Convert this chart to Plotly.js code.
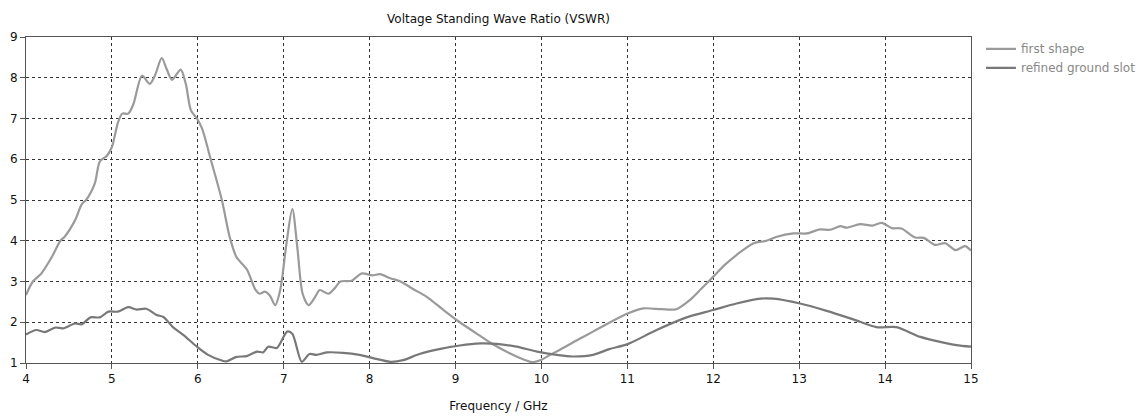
<!DOCTYPE html>
<html>
<head>
<meta charset="utf-8">
<script src="https://cdn.plot.ly/plotly-3.0.1.min.js"></script>
<style>html,body{margin:0;padding:0;background:#fff;}#chart{width:1138px;height:418px;}</style>
</head>
<body>
<div id="chart"></div>
<script>
const firstShapeFreq = [4.0, 4.08, 4.18, 4.30, 4.40, 4.45, 4.57, 4.65, 4.70, 4.80, 4.86, 4.94, 5.00, 5.07, 5.12, 5.19, 5.25, 5.35, 5.44, 5.50, 5.58, 5.64, 5.70, 5.80, 5.86, 5.92, 5.99, 6.05, 6.15, 6.28, 6.37, 6.45, 6.57, 6.67, 6.72, 6.78, 6.84, 6.90, 6.96, 7.03, 7.10, 7.16, 7.22, 7.29, 7.36, 7.42, 7.52, 7.60, 7.66, 7.79, 7.91, 8.03, 8.12, 8.24, 8.36, 8.51, 8.66, 8.86, 9.05, 9.29, 9.42, 9.63, 9.80, 9.89, 10.00, 10.10, 10.22, 10.45, 10.60, 10.80, 11.01, 11.19, 11.40, 11.57, 11.73, 11.86, 12.00, 12.14, 12.27, 12.47, 12.62, 12.74, 12.93, 13.09, 13.24, 13.36, 13.48, 13.55, 13.71, 13.85, 13.96, 14.08, 14.19, 14.35, 14.45, 14.58, 14.70, 14.82, 14.93, 15.0];
const firstShapeVSWR = [2.67, 3.0, 3.2, 3.6, 4.0, 4.1, 4.5, 4.9, 5.0, 5.4, 5.95, 6.08, 6.3, 6.9, 7.12, 7.12, 7.35, 8.05, 7.85, 8.05, 8.48, 8.2, 7.95, 8.2, 7.85, 7.2, 7.0, 6.75, 6.0, 5.0, 4.1, 3.6, 3.3, 2.8, 2.7, 2.75, 2.65, 2.42, 2.8, 3.9, 4.78, 3.8, 2.7, 2.42, 2.6, 2.79, 2.7, 2.85, 3.0, 3.02, 3.2, 3.15, 3.18, 3.08, 3.0, 2.81, 2.63, 2.3, 2.0, 1.66, 1.48, 1.24, 1.08, 1.02, 1.08, 1.2, 1.33, 1.6, 1.77, 2.0, 2.22, 2.34, 2.32, 2.32, 2.55, 2.82, 3.12, 3.42, 3.65, 3.94, 4.0, 4.1, 4.18, 4.18, 4.28, 4.27, 4.36, 4.32, 4.41, 4.37, 4.44, 4.31, 4.3, 4.08, 4.07, 3.9, 3.94, 3.77, 3.87, 3.76];

const refinedFreq = [4.0, 4.12, 4.22, 4.34, 4.43, 4.57, 4.65, 4.75, 4.86, 4.96, 5.07, 5.19, 5.29, 5.40, 5.52, 5.60, 5.71, 5.83, 5.99, 6.12, 6.28, 6.33, 6.45, 6.57, 6.69, 6.76, 6.82, 6.92, 7.04, 7.10, 7.21, 7.30, 7.38, 7.50, 7.69, 7.88, 8.04, 8.24, 8.39, 8.58, 8.81, 9.05, 9.29, 9.48, 9.71, 9.95, 10.18, 10.36, 10.60, 10.79, 11.01, 11.34, 11.69, 12.00, 12.27, 12.55, 12.70, 13.01, 13.32, 13.63, 13.90, 14.13, 14.41, 14.68, 14.83, 15.0];
const refinedVSWR = [1.70, 1.81, 1.76, 1.87, 1.85, 1.97, 1.95, 2.12, 2.12, 2.26, 2.26, 2.37, 2.31, 2.33, 2.18, 2.13, 1.88, 1.69, 1.40, 1.20, 1.06, 1.04, 1.15, 1.17, 1.28, 1.26, 1.40, 1.37, 1.77, 1.72, 1.03, 1.22, 1.2, 1.26, 1.25, 1.2, 1.12, 1.03, 1.07, 1.22, 1.34, 1.43, 1.48, 1.47, 1.40, 1.28, 1.2, 1.16, 1.2, 1.34, 1.47, 1.81, 2.12, 2.30, 2.46, 2.58, 2.58, 2.46, 2.28, 2.07, 1.88, 1.88, 1.64, 1.50, 1.44, 1.40];

const seriesNames = ['first shape', 'refined ground slot'];
const xTicks = [4,5,6,7,8,9,10,11,12,13,14,15];
const yTicks = [1,2,3,4,5,6,7,8,9];

const traces = [
  {x: firstShapeFreq, y: firstShapeVSWR, name: seriesNames[0], type: 'scatter', mode: 'lines',
   line: {color: '#9a9a9a', width: 2.2, shape: 'spline', smoothing: 0.8}},
  {x: refinedFreq, y: refinedVSWR, name: seriesNames[1], type: 'scatter', mode: 'lines',
   line: {color: '#787878', width: 2.2, shape: 'spline', smoothing: 0.8}}
];

const axisCommon = {
  showgrid: true, gridcolor: '#333', griddash: 'dot', gridwidth: 1,
  showline: true, linecolor: '#555', linewidth: 1, mirror: true,
  ticks: 'outside', ticklen: 5, tickcolor: '#555',
  tickfont: {family: 'DejaVu Sans', size: 12, color: '#111'},
  zeroline: false
};

const layout = {
  width: 1138, height: 418,
  margin: {l: 26, r: 167, t: 37, b: 55, autoexpand: false},
  paper_bgcolor: '#fff', plot_bgcolor: '#fff',
  title: {text: 'Voltage Standing Wave Ratio (VSWR)', font: {family: 'DejaVu Sans', size: 12, color: '#111'},
          x: 0.5, xref: 'paper', xanchor: 'center', y: 0.965, yref: 'container'},
  xaxis: Object.assign({}, axisCommon, {range: [4, 15], tickvals: xTicks, automargin: false,
          title: {text: 'Frequency / GHz', font: {family: 'DejaVu Sans', size: 12, color: '#111'}, standoff: 16}}),
  yaxis: Object.assign({}, axisCommon, {range: [1, 9], tickvals: yTicks, automargin: false}),
  showlegend: true,
  legend: {xref: 'container', yref: 'container', x: 0.862, xanchor: 'left', y: 0.918, yanchor: 'top',
           bgcolor: 'rgba(0,0,0,0)',
           font: {family: 'DejaVu Sans', size: 12, color: '#888'}, tracegroupgap: 0}
};

Plotly.newPlot('chart', traces, layout, {displayModeBar: false, staticPlot: true});
</script>
</body>
</html>
